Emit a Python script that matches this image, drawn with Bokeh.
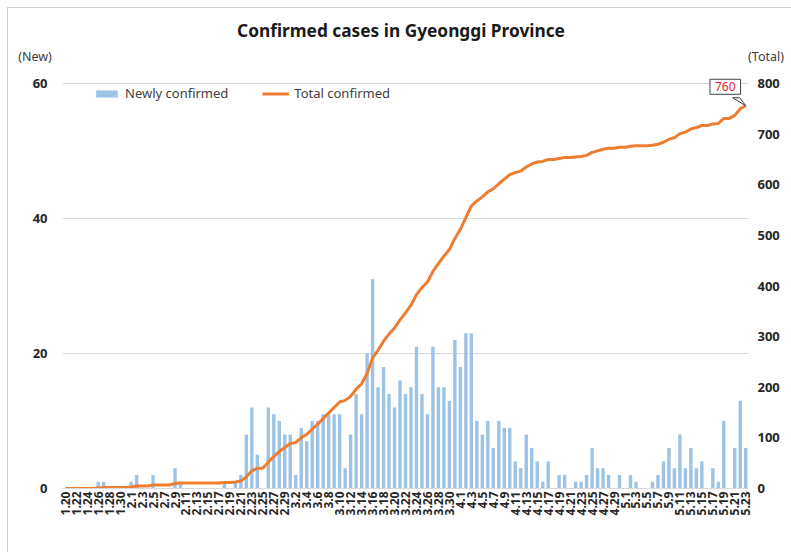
import math
import numpy as np
import pandas as pd
from bokeh.plotting import figure
from bokeh.layouts import column
from bokeh.models import (Range1d, LinearAxis, FixedTicker, Label, Legend, LegendItem, Div)
from bokeh.embed import file_html
from bokeh.resources import INLINE

# ---------------- data ----------------
dates = [f"{d.month}.{d.day}" for d in pd.date_range("2020-01-20", "2020-05-23")]

new_cases = [
    0, 0, 0, 0, 0, 0, 1, 1, 0, 0, 0, 0,            # 1.20 - 1.31
    1, 2, 0, 0, 2, 0, 0, 0, 3, 1, 0, 0, 0, 0, 0, 0,  # 2.1 - 2.16
    0, 1, 0, 1, 2, 8, 12, 5, 0, 12, 11, 10, 8,      # 2.17 - 2.29
    8, 2, 9, 7, 10, 10, 11, 11, 11, 11, 3, 8, 14, 11, 20, 31,  # 3.1 - 3.16
    15, 18, 14, 12, 16, 14, 15, 21, 14, 11, 21, 15, 15, 13, 22,  # 3.17 - 3.31
    18, 23, 23, 10, 8, 10, 6, 10, 9, 9, 4, 3, 8, 6, 4,  # 4.1 - 4.15
    1, 4, 0, 2, 2, 0, 1, 1, 2, 6, 3, 3, 2, 0, 2,    # 4.16 - 4.30
    0, 2, 1, 0, 0, 1, 2, 4, 6, 3, 8, 3, 6, 3, 4,    # 5.1 - 5.15
    0, 3, 1, 10, 0, 6, 13, 6,                        # 5.16 - 5.23
]
total_cases = list(np.cumsum(new_cases))
callout_value = 760

title_text = "Confirmed cases in Gyeonggi Province"
left_caption = "(New)"
right_caption = "(Total)"
left_ticks = [0, 20, 40, 60]
right_ticks = [0, 100, 200, 300, 400, 500, 600, 700, 800]

days = list(range(len(dates)))
label_days = days[::2]

FONT = "Noto Sans"
BAR = "#9DC3E6"
LINE = "#ED7D31"
GRID = "#D9D9D9"
TXT = "#262626"
EDGE = "#D0D0D0"

W = 791
TOTAL_H = 552
HEAD_H = 68
H = TOTAL_H - HEAD_H
ML, MR, MT, MB = 62, 43, 2, 64
FW, FH = W - ML - MR, H - MT - MB
FULL_H = FH - 13          # the 60 / 800 gridline sits 13px below the frame top
y_top_left = 60 * FH / FULL_H
y_top_right = 800 * FH / FULL_H

# ---------------- header (title + axis captions) ----------------
head_html = f"""
<div style="position:relative;width:{W}px;height:{HEAD_H}px;font-family:'{FONT}';">
  <div style="position:absolute;left:401px;top:20px;transform:translateX(-50%);white-space:nowrap;
              font-weight:bold;font-size:17.3px;line-height:22px;color:#1a1a1a;">{title_text}</div>
  <div style="position:absolute;left:35px;top:49px;transform:translateX(-50%);white-space:nowrap;
              font-size:12.5px;line-height:16px;color:#404040;">{left_caption}</div>
  <div style="position:absolute;left:766px;top:49px;transform:translateX(-50%);white-space:nowrap;
              font-size:12.5px;line-height:16px;color:#404040;">{right_caption}</div>
</div>"""
head = Div(text=head_html, width=W, height=HEAD_H, styles={"margin": "0", "padding": "0"})

# ---------------- main chart ----------------
p = figure(width=W, height=H, output_backend="svg", toolbar_location=None,
           x_range=Range1d(-0.5, len(dates) - 0.5), y_range=Range1d(0, y_top_left),
           min_border_left=ML, min_border_right=MR, min_border_top=MT, min_border_bottom=MB)
p.extra_y_ranges = {"total": Range1d(0, y_top_right)}
p.outline_line_color = None
p.border_fill_color = None
p.background_fill_color = "white"

bars = p.vbar(x=days, top=new_cases, width=0.62, fill_color=BAR, line_color=None)
line = p.line(x=days, y=total_cases, y_range_name="total", line_color=LINE, line_width=3,
              line_join="round")

p.xaxis.ticker = FixedTicker(ticks=label_days)
p.xaxis.major_label_overrides = {i: dates[i] for i in label_days}
p.xaxis.major_label_orientation = math.pi / 2
p.xaxis.major_label_text_font = FONT
p.xaxis.major_label_text_font_style = "bold"
p.xaxis.major_label_text_font_size = "12px"
p.xaxis.major_label_text_color = TXT
p.xaxis.major_label_standoff = 3
p.xaxis.major_tick_out = 0
p.xaxis.major_tick_in = 0
p.xaxis.axis_line_color = GRID
p.xaxis.major_tick_line_color = None
p.xaxis.minor_tick_line_color = None

p.yaxis.ticker = FixedTicker(ticks=left_ticks)
p.yaxis.major_label_text_font = FONT
p.yaxis.major_label_text_font_style = "bold"
p.yaxis.major_label_text_font_size = "13px"
p.yaxis.major_label_text_color = TXT
p.yaxis.major_label_standoff = 15
p.yaxis.major_tick_out = 0
p.yaxis.major_tick_in = 0
p.yaxis.axis_line_color = None
p.yaxis.major_tick_line_color = None
p.yaxis.minor_tick_line_color = None

ra = LinearAxis(y_range_name="total", ticker=FixedTicker(ticks=right_ticks))
ra.major_label_text_font = FONT
ra.major_label_text_font_style = "bold"
ra.major_label_text_font_size = "13px"
ra.major_label_text_color = TXT
ra.major_label_standoff = 9
ra.major_tick_out = 0
ra.major_tick_in = 0
ra.axis_line_color = None
ra.major_tick_line_color = None
ra.minor_tick_line_color = None
p.add_layout(ra, "right")

p.xgrid.grid_line_color = None
p.ygrid.ticker = FixedTicker(ticks=left_ticks)
p.ygrid.grid_line_color = GRID

legend = Legend(items=[LegendItem(label="Newly confirmed", renderers=[bars]),
                       LegendItem(label="Total confirmed", renderers=[line])],
                orientation="horizontal", location=(31, 386),
                background_fill_alpha=0, border_line_color=None,
                label_text_font=FONT, label_text_font_size="13px", label_text_color="#404040",
                glyph_width=27, glyph_height=9, label_standoff=5, spacing=34,
                padding=0, margin=0)
p.add_layout(legend)

# callout at the last point
px_day = FW / len(dates)
px_tot = FH / y_top_right
xl, yl = days[-1], total_cases[-1]
ptr_x = [xl - 13 / px_day, xl - 6 / px_day, xl]
ptr_y = [yl + 8 / px_tot, yl + 8 / px_tot, yl]
p.patch(ptr_x, ptr_y, y_range_name="total", fill_color="white", line_color="#404040", line_width=1)
p.add_layout(Label(x=xl, y=yl, y_range_name="total", x_offset=-20.5, y_offset=19,
                   text=str(callout_value), text_align="center", text_baseline="middle",
                   text_font=FONT, text_font_size="12px", text_color="#E8202A",
                   background_fill_color="white", border_line_color="#404040",
                   border_line_width=1, padding=(5, 3)))

# chart-area edge (top and left lines of the cropped chart border)
edge_bg = (f"linear-gradient({EDGE},{EDGE}) 7px 7px / 1px {TOTAL_H}px no-repeat, "
           f"linear-gradient({EDGE},{EDGE}) 7px 7px / {W}px 1px no-repeat, white")
layout = column(head, p, spacing=0, styles={"background": edge_bg})
open("out.html", "w").write(file_html(layout, INLINE))
